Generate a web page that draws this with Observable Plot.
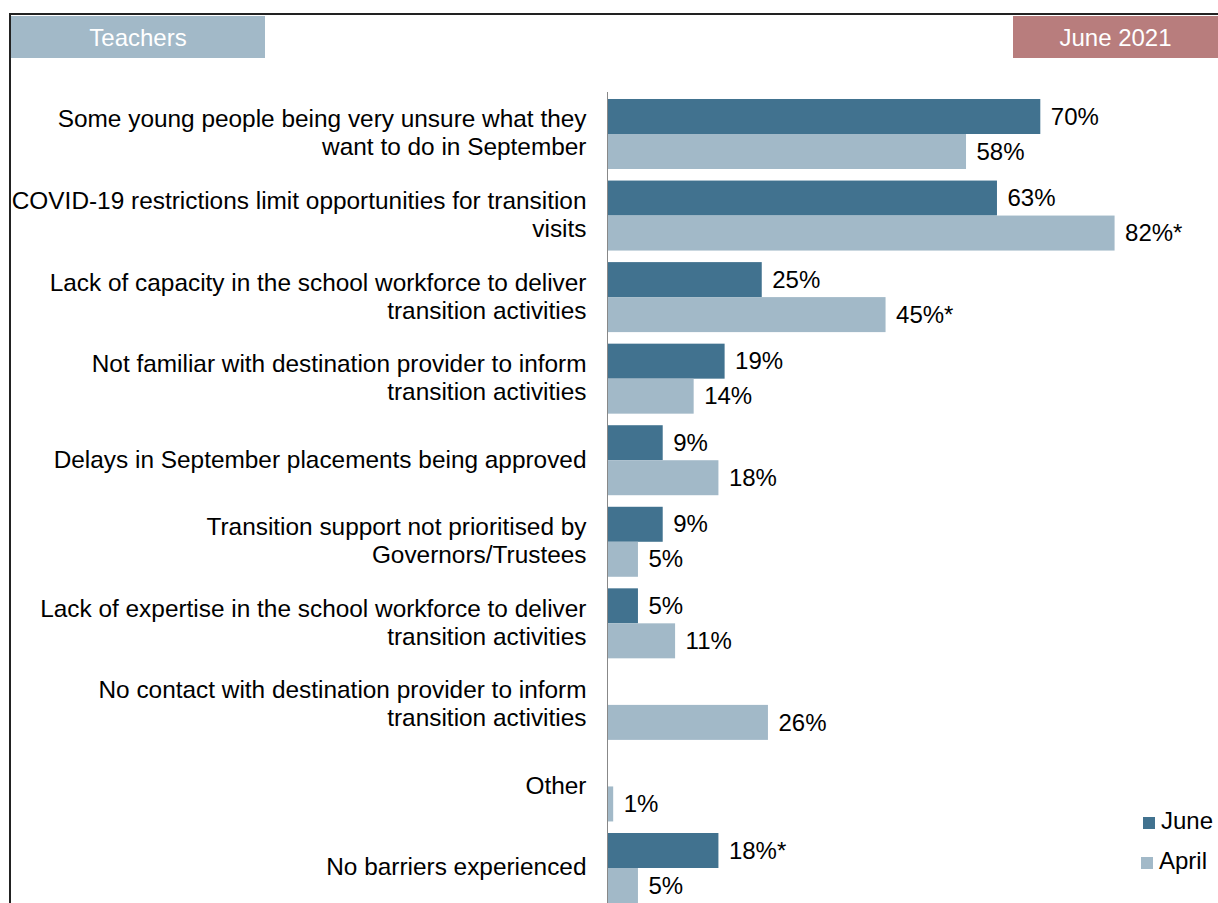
<!DOCTYPE html>
<html>
<head>
<meta charset="utf-8">
<script src="https://cdn.jsdelivr.net/npm/d3@7"></script>
<script src="https://cdn.jsdelivr.net/npm/@observablehq/plot@0.6"></script>
<style>
  html, body { margin: 0; padding: 0; background: #fff; }
  #wrap { position: relative; width: 1218px; height: 903px; overflow: hidden; font-family: "Liberation Sans", Arial, sans-serif; }
  #wrap svg { position: absolute; left: 0; top: 0; }
  .frameTop { position: absolute; left: 9px; top: 13px; width: 1209px; height: 2px; background: #222; }
  .frameLeft { position: absolute; left: 9px; top: 13px; width: 2px; height: 890px; background: #222; }
  .hdr { position: absolute; top: 16px; height: 42px; color: #fff; font-size: 24px; line-height: 44px; text-align: center; }
  .leg { position: absolute; font-size: 24px; color: #000; line-height: 28px; }
  .leg span { display: inline-block; width: 12px; height: 12px; margin-right: 6px; vertical-align: 0px; }
</style>
</head>
<body>
<div id="wrap"></div>
<script>
const categories = [
  "Some young people being very unsure what they\nwant to do in September",
  "COVID-19 restrictions limit opportunities for transition\nvisits",
  "Lack of capacity in the school workforce to deliver\ntransition activities",
  "Not familiar with destination provider to inform\ntransition activities",
  "Delays in September placements being approved",
  "Transition support not prioritised by\nGovernors/Trustees",
  "Lack of expertise in the school workforce to deliver\ntransition activities",
  "No contact with destination provider to inform\ntransition activities",
  "Other",
  "No barriers experienced"
];
const june  = [70, 63, 25, 19, 9, 9, 5, null, null, 18];
const april = [58, 82, 45, 14, 18, 5, 11, 26, 1, 5];
const juneSig  = [false, false, false, false, false, false, false, false, false, true];
const aprilSig = [false, true, true, false, false, false, false, false, false, false];
const seriesNames = ["June", "April"];
const seriesColors = ["#41728f", "#a2b9c8"];

const juneData = categories.map((c, i) => ({cat: c, v: june[i], label: june[i] == null ? null : june[i] + "%" + (juneSig[i] ? "*" : "")})).filter(d => d.v != null);
const aprilData = categories.map((c, i) => ({cat: c, v: april[i], label: april[i] + "%" + (aprilSig[i] ? "*" : "")}));

const half = 35;
const chart = Plot.plot({
  width: 1218,
  height: 903,
  marginTop: 92,
  marginBottom: 0,
  marginLeft: 607,
  marginRight: 0,
  style: {fontFamily: "'Liberation Sans', Arial, sans-serif", background: "transparent"},
  x: {domain: [0, 98], range: [607, 607 + 98 * 6.19], axis: null},
  y: {domain: categories, paddingInner: 0.1417, paddingOuter: 0.0429, align: 1, round: false, axis: null},
  marks: [
    Plot.barX(juneData, {y: "cat", x: "v", fill: seriesColors[0], insetBottom: half}),
    Plot.barX(aprilData, {y: "cat", x: "v", fill: seriesColors[1], insetTop: half}),
    Plot.ruleX([0], {stroke: "#888", strokeWidth: 1}),
    Plot.text(juneData, {y: "cat", x: "v", text: "label", dx: 10, dy: -half / 2, textAnchor: "start", fontSize: 24, fill: "#000"}),
    Plot.text(aprilData, {y: "cat", x: "v", text: "label", dx: 10, dy: half / 2, textAnchor: "start", fontSize: 24, fill: "#000"}),
    Plot.text(categories, {y: d => d, x: () => 0, text: d => d, dx: -21, dy: -2, textAnchor: "end", fontSize: 24.4, lineHeight: 1.15, fill: "#000"})
  ]
});

const wrap = document.getElementById("wrap");
wrap.appendChild(chart);
wrap.insertAdjacentHTML("beforeend", `
  <div class="frameTop"></div>
  <div class="frameLeft"></div>
  <div class="hdr" style="left:11px;width:254px;background:#a2b9c8;">Teachers</div>
  <div class="hdr" style="left:1013px;width:205px;background:#b87d7d;">June 2021</div>
  <div class="leg" style="left:1143px;top:807px;"><span style="background:${seriesColors[0]}"></span>${seriesNames[0]}</div>
  <div class="leg" style="left:1141px;top:847px;"><span style="background:${seriesColors[1]}"></span>${seriesNames[1]}</div>
`);
</script>
</body>
</html>
